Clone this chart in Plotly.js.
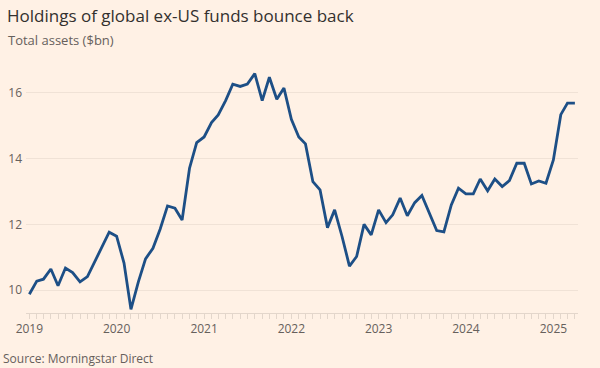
<!DOCTYPE html>
<html>
<head>
<meta charset="utf-8">
<script src="https://cdn.plot.ly/plotly-3.0.1.min.js"></script>
<style>
html,body{margin:0;padding:0;background:#fff1e5;}
#chart{width:600px;height:368px;}
</style>
</head>
<body>
<div id="chart"></div>
<script>
const months = [
  '2019-01-01','2019-02-01','2019-03-01','2019-04-01','2019-05-01','2019-06-01','2019-07-01','2019-08-01','2019-09-01','2019-10-01','2019-11-01','2019-12-01',
  '2020-01-01','2020-02-01','2020-03-01','2020-04-01','2020-05-01','2020-06-01','2020-07-01','2020-08-01','2020-09-01','2020-10-01','2020-11-01','2020-12-01',
  '2021-01-01','2021-02-01','2021-03-01','2021-04-01','2021-05-01','2021-06-01','2021-07-01','2021-08-01','2021-09-01','2021-10-01','2021-11-01','2021-12-01',
  '2022-01-01','2022-02-01','2022-03-01','2022-04-01','2022-05-01','2022-06-01','2022-07-01','2022-08-01','2022-09-01','2022-10-01','2022-11-01','2022-12-01',
  '2023-01-01','2023-02-01','2023-03-01','2023-04-01','2023-05-01','2023-06-01','2023-07-01','2023-08-01','2023-09-01','2023-10-01','2023-11-01','2023-12-01',
  '2024-01-01','2024-02-01','2024-03-01','2024-04-01','2024-05-01','2024-06-01','2024-07-01','2024-08-01','2024-09-01','2024-10-01','2024-11-01','2024-12-01',
  '2025-01-01','2025-02-01','2025-03-01','2025-04-01'
];
const totalAssets = [
  9.87, 10.27, 10.33, 10.64, 10.13, 10.67, 10.53, 10.25, 10.41, 10.86, 11.32, 11.76,
  11.64, 10.82, 9.41, 10.25, 10.95, 11.27, 11.85, 12.56, 12.49, 12.13, 13.71, 14.49,
  14.66, 15.10, 15.33, 15.77, 16.27, 16.20, 16.27, 16.59, 15.77, 16.48, 15.81, 16.15,
  15.20, 14.66, 14.45, 13.30, 13.05, 11.90, 12.44, 11.63, 10.73, 11.02, 12.00, 11.68,
  12.44, 12.05, 12.29, 12.80, 12.26, 12.66, 12.88, 12.34, 11.81, 11.77, 12.59, 13.10,
  12.93, 12.93, 13.38, 13.02, 13.38, 13.15, 13.33, 13.86, 13.86, 13.23, 13.32, 13.25,
  13.96, 15.34, 15.69, 15.69
];
const yTicks = [10, 12, 14, 16];
const xTickYears = ['2019-01-01','2020-01-01','2021-01-01','2022-01-01','2023-01-01','2024-01-01','2025-01-01'];
const xTickLabels = ['2019','2020','2021','2022','2023','2024','2025'];

const titleText = 'Holdings of global ex-US funds bounce back';
const subtitleText = 'Total assets ($bn)';
const sourceText = 'Source: Morningstar Direct';

const L = 26, R = 22, T = 70, B = 55, W = 600, H = 368;
const pw = W - L - R, ph = H - T - B;

const trace = {
  x: months, y: totalAssets, type: 'scatter', mode: 'lines',
  line: {color: '#1d4f86', width: 2.8, shape: 'linear'},
  hoverinfo: 'skip'
};

const layout = {
  width: W, height: H,
  margin: {l: L, r: R, t: T, b: B, pad: 0},
  paper_bgcolor: '#fff1e5', plot_bgcolor: '#fff1e5',
  font: {family: 'Open Sans, sans-serif', color: '#66605c', size: 13},
  showlegend: false,
  title: {
    text: titleText, x: 7 / W, xref: 'container', xanchor: 'left',
    y: 1 - 16 / H, yref: 'container', yanchor: 'middle',
    font: {family: 'Open Sans, sans-serif', size: 17, color: '#33302e'}
  },
  xaxis: {
    type: 'date', range: ['2018-12-18', '2025-04-14'],
    tickvals: xTickYears, ticktext: xTickLabels,
    ticks: 'outside', ticklen: 5, tickcolor: '#e3d6cb', tickwidth: 1,
    minor: {dtick: 'M1', tick0: '2019-01-01', ticks: 'outside', ticklen: 5, tickcolor: '#e3d6cb', showgrid: false},
    showgrid: false, showline: true, linecolor: '#e3d6cb', linewidth: 1,
    zeroline: false, fixedrange: true,
    tickfont: {size: 12, color: '#66605c'}
  },
  yaxis: {
    range: [9.3, 16.7], tickvals: yTicks, ticktext: yTicks.map(String),
    showgrid: true, gridcolor: '#f0e2d6', gridwidth: 1,
    zeroline: false, showline: false, ticks: '', fixedrange: true,
    ticklabelstandoff: 3,
    tickfont: {size: 12, color: '#66605c'}
  },
  annotations: [
    {text: subtitleText, xref: 'paper', yref: 'paper', x: (6 - L) / pw, y: (H - B - 40) / ph,
     xanchor: 'left', yanchor: 'middle', showarrow: false, font: {size: 13, color: '#66605c'}},
    {text: sourceText, xref: 'paper', yref: 'paper', x: (1 - L) / pw, y: (H - B - 358) / ph,
     xanchor: 'left', yanchor: 'middle', showarrow: false, font: {size: 12, color: '#66605c'}}
  ]
};

Plotly.newPlot('chart', [trace], layout, {displayModeBar: false, staticPlot: true});
</script>
</body>
</html>
